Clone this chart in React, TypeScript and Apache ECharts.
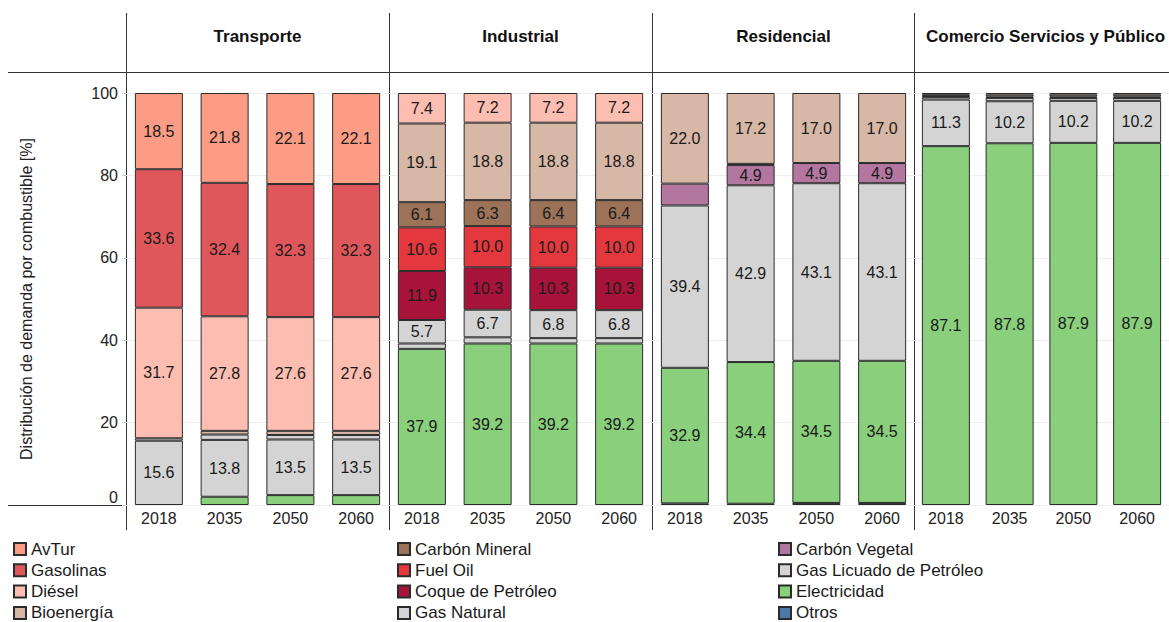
import React, { useEffect, useRef } from "react";
import * as echarts from "echarts";

const sectors = ["Transporte", "Industrial", "Residencial", "Comercio Servicios y Público"];
const years = ["2018", "2035", "2050", "2060"];

// legend order (top of stack first)
const fuels = [
  "AvTur", "Gasolinas", "Diésel", "Bioenergía",
  "Carbón Mineral", "Fuel Oil", "Coque de Petróleo", "Gas Natural",
  "Carbón Vegetal", "Gas Licuado de Petróleo", "Electricidad", "Otros",
];

const colors: Record<string, string> = {
  "AvTur": "#FC9C85",
  "Gasolinas": "#E0575B",
  "Diésel": "#FDBDB1",
  "Bioenergía": "#D7B7A5",
  "Carbón Mineral": "#9C7358",
  "Fuel Oil": "#E3393E",
  "Coque de Petróleo": "#A8133A",
  "Gas Natural": "#D4D4D4",
  "Carbón Vegetal": "#B3779F",
  "Gas Licuado de Petróleo": "#D4D4D4",
  "Electricidad": "#89CF7C",
  "Otros": "#4D77A5",
};

// values per fuel: Transporte(4), Industrial(4), Residencial(4), Comercio(4)
const avTur = [18.5, 21.8, 22.1, 22.1, 0, 0, 0, 0, 0, 0, 0, 0, 0, 0, 0, 0];
const gasolinas = [33.6, 32.4, 32.3, 32.3, 0, 0, 0, 0, 0, 0, 0, 0, 0, 0, 0, 0];
const diesel = [31.7, 27.8, 27.6, 27.6, 7.4, 7.2, 7.2, 7.2, 0, 0, 0, 0, 0.3, 0.4, 0.4, 0.4];
const bioenergia = [0, 0.9, 1.0, 1.0, 19.1, 18.8, 18.8, 18.8, 22.0, 17.2, 17.0, 17.0, 0.4, 0.5, 0.5, 0.5];
const carbonMineral = [0, 0, 0, 0, 6.1, 6.3, 6.4, 6.4, 0, 0, 0, 0, 0.3, 0.3, 0.3, 0.3];
const fuelOil = [0, 0, 0, 0, 10.6, 10.0, 10.0, 10.0, 0, 0, 0, 0, 0, 0, 0, 0];
const coque = [0, 0, 0, 0, 11.9, 10.3, 10.3, 10.3, 0, 0, 0, 0, 0, 0, 0, 0];
const gasNatural = [0.6, 1.3, 1.1, 1.1, 5.7, 6.7, 6.8, 6.8, 0, 0.3, 0, 0, 0.6, 0.8, 0.7, 0.7];
const carbonVegetal = [0, 0, 0, 0, 0, 0, 0, 0, 5.3, 4.9, 4.9, 4.9, 0, 0, 0, 0];
const glp = [15.6, 13.8, 13.5, 13.5, 1.3, 1.5, 1.3, 1.3, 39.4, 42.9, 43.1, 43.1, 11.3, 10.2, 10.2, 10.2];
const electricidad = [0, 2.0, 2.4, 2.4, 37.9, 39.2, 39.2, 39.2, 32.9, 34.4, 34.5, 34.5, 87.1, 87.8, 87.9, 87.9];
const otros = [0, 0, 0, 0, 0, 0, 0, 0, 0.4, 0.3, 0.5, 0.5, 0, 0, 0, 0];

const values: Record<string, number[]> = {
  "AvTur": avTur,
  "Gasolinas": gasolinas,
  "Diésel": diesel,
  "Bioenergía": bioenergia,
  "Carbón Mineral": carbonMineral,
  "Fuel Oil": fuelOil,
  "Coque de Petróleo": coque,
  "Gas Natural": gasNatural,
  "Carbón Vegetal": carbonVegetal,
  "Gas Licuado de Petróleo": glp,
  "Electricidad": electricidad,
  "Otros": otros,
};

// points whose value label is not printed in the original
const unlabeled: [string, number][] = [["Carbón Vegetal", 8]];
const labelMin = 4.5;

const yTicks = [0, 20, 40, 60, 80, 100];

const FONT = "'Liberation Sans', Arial, Helvetica, sans-serif";

export default function App() {
  const ref = useRef<HTMLDivElement>(null);
  useEffect(() => {
    if (!ref.current) return;
    const chart = echarts.init(ref.current, null, { renderer: "svg" });

    const panelLeft = [126, 389, 652, 914];
    const panelW = 263;
    const top = 93;
    const bottom = 117;

    const grids = panelLeft.map((l) => ({ left: l, width: panelW, top, bottom, containLabel: false }));

    const xAxes = sectors.map((_, i) => ({
      type: "category",
      gridIndex: i,
      data: years,
      axisLine: { show: false },
      axisTick: { show: false },
      axisLabel: { fontSize: 16, color: "#222", fontFamily: FONT, margin: 5 },
    }));

    const yAxes = sectors.map((_, i) => ({
      type: "value",
      gridIndex: i,
      min: yTicks[0],
      max: yTicks[yTicks.length - 1],
      interval: 20,
      axisLine: { show: false },
      axisTick: i === 0 ? { show: true, length: 4, lineStyle: { color: "#ccc" } } : { show: false },
      axisLabel: i === 0
        ? { show: true, fontSize: 16, color: "#222", fontFamily: FONT, margin: 8, verticalAlignMinLabel: "bottom" }
        : { show: false },
      splitLine: { show: true, lineStyle: { color: "#EEEEEE", width: 1 } },
      name: i === 0 ? "Distribución de demanda por combustible [%]" : "",
      nameLocation: "middle",
      nameGap: 92,
      nameRotate: 90,
      nameTextStyle: { fontSize: 16, color: "#222", fontFamily: FONT },
    }));

    const stackOrder = [...fuels].reverse(); // bottom first
    const series: any[] = [];
    sectors.forEach((_, s) => {
      stackOrder.forEach((f) => {
        const data = values[f].slice(s * 4, s * 4 + 4).map((v, j) => {
          if (!v) return "-";
          const idx = s * 4 + j;
          const hidden = unlabeled.some(([n, k]) => n === f && k === idx);
          return { value: v, label: { show: v >= labelMin && !hidden } };
        });
        series.push({
          type: "bar",
          name: f,
          xAxisIndex: s,
          yAxisIndex: s,
          stack: "s" + s,
          barWidth: 48,
          data,
          itemStyle: { color: colors[f], borderColor: "#2b2b2b", borderWidth: 1 },
          label: {
            show: false,
            position: "inside",
            color: "#1a1a1a",
            fontSize: 16,
            fontFamily: FONT,
            formatter: (p: any) => Number(p.value).toFixed(1),
          },
          emphasis: { disabled: true },
        });
      });
    });

    const legendCols = [fuels.slice(0, 4), fuels.slice(4, 8), fuels.slice(8, 12)];
    const legendLeft = [13, 397, 778];
    const legends = legendCols.map((col, i) => ({
      orient: "vertical",
      left: legendLeft[i],
      top: 540,
      height: 100,
      padding: 0,
      data: col,
      icon: "rect",
      itemWidth: 12,
      itemHeight: 12,
      itemGap: 3.3,
      selectedMode: false,
      textStyle: { fontSize: 17, color: "#1a1a1a", fontFamily: FONT, lineHeight: 18 },
    }));

    const lineColor = "#333";
    const graphic: any[] = [];
    panelLeft.forEach((l) => {
      graphic.push({
        type: "line",
        shape: { x1: l + 0.5, y1: 13, x2: l + 0.5, y2: 530 },
        style: { stroke: lineColor, lineWidth: 1 },
        silent: true,
      });
    });
    graphic.push({
      type: "line",
      shape: { x1: 8, y1: 72.5, x2: 1169, y2: 72.5 },
      style: { stroke: lineColor, lineWidth: 1 },
      silent: true,
    });
    graphic.push({
      type: "line",
      shape: { x1: 8, y1: 505.5, x2: 1169, y2: 505.5 },
      style: { stroke: lineColor, lineWidth: 1 },
      silent: true,
    });
    sectors.forEach((name, i) => {
      graphic.push({
        type: "text",
        x: panelLeft[i] + panelW / 2,
        y: 36,
        style: {
          text: name,
          fontSize: 17,
          fontWeight: "bold",
          fontFamily: FONT,
          fill: "#111",
          align: "center",
          verticalAlign: "middle",
        },
        silent: true,
      });
    });

    chart.setOption({
      animation: false,
      backgroundColor: "#fff",
      grid: grids,
      xAxis: xAxes,
      yAxis: yAxes,
      legend: legends,
      series,
      graphic,
    });

    return () => chart.dispose();
  }, []);

  return (
    <div
      ref={ref}
      style={{ position: "fixed", left: 0, top: 0, width: 1169, height: 622, background: "#fff" }}
    />
  );
}
